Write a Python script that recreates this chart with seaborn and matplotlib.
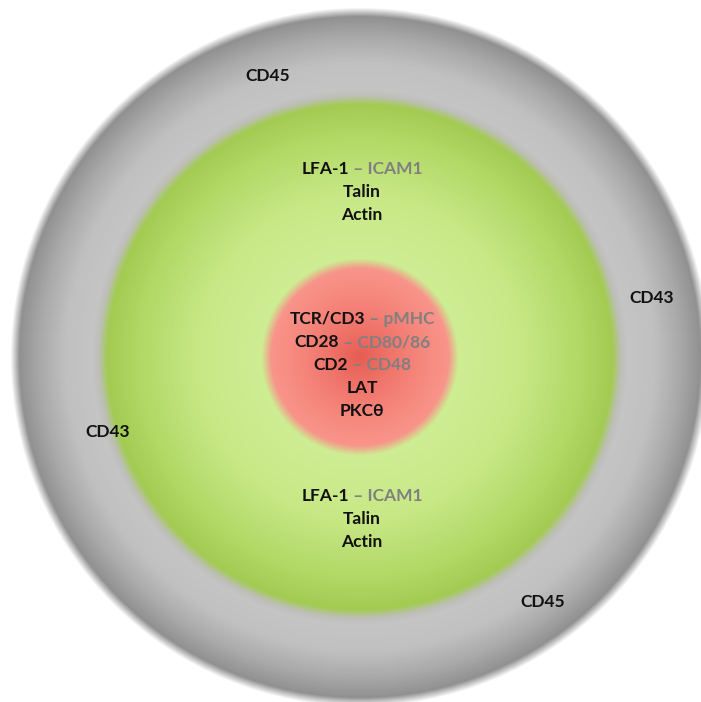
import numpy as np
import matplotlib
matplotlib.use("Agg")
import matplotlib.pyplot as plt
import seaborn as sns
from matplotlib.patches import Circle
from matplotlib.collections import PatchCollection
from matplotlib.offsetbox import TextArea, HPacker, AnnotationBbox

# ---------------- data ----------------
zones = ["dSMAC", "pSMAC", "cSMAC"]
csmac_receptors = ["TCR/CD3", "CD28", "CD2", "LAT", "PKC\u03b8"]
csmac_ligands = ["pMHC", "CD80/86", "CD48", "", ""]
psmac_receptors = ["LFA-1", "Talin", "Actin"]
psmac_ligands = ["ICAM1", "", ""]
dsmac_labels = ["CD45", "CD43", "CD43", "CD45"]

# ---------------- layout / style ----------------
W, H = 701, 702
CX, CY = 360, 357
# radial colour stops (radius px, rgb) from outside to centre
stops = [
    (350, (255, 255, 255)),
    (341, (145, 145, 145)),
    (320, (170, 170, 170)),
    (295, (192, 192, 192)),
    (268, (196, 196, 196)),
    (262, (190, 191, 186)),
    (253, (163, 203, 82)),
    (220, (178, 216, 102)),
    (160, (200, 232, 135)),
    (99, (206, 236, 146)),
    (89, (248, 148, 138)),
    (60, (245, 134, 124)),
    (30, (239, 115, 105)),
    (0, (230, 92, 82)),
]
dsmac_pos = [(268, 76), (652, 298), (108, 432), (543, 602)]
psmac_top_y = [169, 192, 215]
psmac_bot_y = [496, 519, 542]
csmac_y = [319, 342, 365, 388, 411]
BLACK = "#111111"
GRAY = "#808080"
FONT = ["Lato", "DejaVu Sans"]
FS = 12.5

sns.set_theme(style="white")
plt.rcParams["font.family"] = FONT

fig = plt.figure(figsize=(W / 100, H / 100), dpi=100)
ax = fig.add_axes([0, 0, 1, 1])
ax.set_xlim(0, W)
ax.set_ylim(H, 0)
ax.set_aspect("equal")
ax.axis("off")

# radial gradient built from concentric discs
radii, cols = [], []
for (r0, c0), (r1, c1) in zip(stops[:-1], stops[1:]):
    n = int(r0 - r1)
    pal = sns.blend_palette([np.array(c0) / 255, np.array(c1) / 255], n + 1)
    rs = np.linspace(r0, r1, n + 1)[:-1]
    radii.extend(rs)
    cols.extend(pal[:-1])
radii.append(0.6)
cols.append(np.array(stops[-1][1]) / 255)
discs = [Circle((CX, CY), r) for r in radii]
pc = PatchCollection(discs, facecolors=cols, edgecolors="none", linewidths=0)
ax.add_collection(pc)


def label(x, y, main, lig):
    kids = [TextArea(main, textprops=dict(color=BLACK, fontsize=FS, fontweight="bold", family=FONT))]
    if lig:
        kids.append(TextArea(" \u2013 " + lig, textprops=dict(color=GRAY, fontsize=FS, fontweight="bold", family=FONT)))
    box = HPacker(children=kids, pad=0, sep=0, align="baseline")
    ab = AnnotationBbox(box, (x, y), frameon=False, box_alignment=(0.5, 0.5), pad=0)
    ax.add_artist(ab)


for name, (x, y) in zip(dsmac_labels, dsmac_pos):
    label(x, y, name, "")
for rec, lig, y in zip(psmac_receptors, psmac_ligands, psmac_top_y):
    label(CX + 2, y, rec, lig)
for rec, lig, y in zip(psmac_receptors, psmac_ligands, psmac_bot_y):
    label(CX + 2, y, rec, lig)
for rec, lig, y in zip(csmac_receptors, csmac_ligands, csmac_y):
    label(CX + 2, y, rec, lig)

fig.savefig("out.png", dpi=100)
